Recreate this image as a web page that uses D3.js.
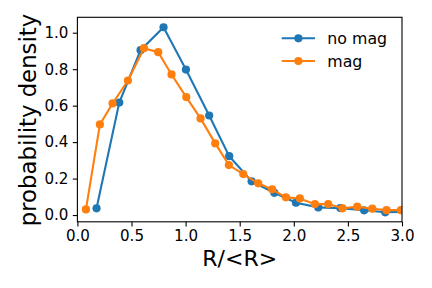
<!DOCTYPE html>
<html>
<head>
<meta charset="utf-8">
<script src="https://cdn.jsdelivr.net/npm/d3@7"></script>
<style>
  body { margin: 0; background: #fff; }
  svg text { font-family: "DejaVu Sans", sans-serif; fill: #000; }
</style>
</head>
<body>
<div id="chart"></div>
<script>
const noMagX = [0.177, 0.387, 0.584, 0.796, 1.003, 1.218, 1.403, 1.61, 1.82, 2.02, 2.226, 2.43, 2.65, 2.845, 3.05];
const noMagY = [0.037, 0.617, 0.904, 1.03, 0.798, 0.546, 0.323, 0.185, 0.122, 0.068, 0.042, 0.038, 0.026, 0.015, 0.018];
const magX = [0.079, 0.208, 0.325, 0.467, 0.615, 0.747, 0.87, 1.006, 1.138, 1.274, 1.40, 1.533, 1.671, 1.80,
              1.927, 2.056, 2.195, 2.318, 2.45, 2.586, 2.725, 2.857, 2.99];
const magY = [0.031, 0.497, 0.612, 0.738, 0.915, 0.893, 0.771, 0.647, 0.53, 0.393, 0.274, 0.225, 0.174, 0.141,
              0.097, 0.091, 0.060, 0.060, 0.037, 0.046, 0.035, 0.027, 0.027];
const xTicks = [0, 0.5, 1, 1.5, 2, 2.5, 3];
const yTicks = [0, 0.2, 0.4, 0.6, 0.8, 1.0];
const seriesNames = ["no mag", "mag"];
const colors = ["#1f77b4", "#ff7f0e"];

const W = 432, H = 288;
const m = {left: 77.4, right: 402, top: 17.3, bottom: 221.8};

const svg = d3.select("#chart").append("svg")
    .attr("width", W).attr("height", H);

const x = d3.scaleLinear().domain([0, 3]).range([m.left, m.right]);
const y = d3.scaleLinear().domain([-0.037, 1.0845]).range([m.bottom, m.top]);

svg.append("defs").append("clipPath").attr("id", "clip")
   .append("rect").attr("x", m.left).attr("y", m.top)
   .attr("width", m.right - m.left).attr("height", m.bottom - m.top);

const series = [
  noMagX.map((v, i) => ({x: v, y: noMagY[i]})),
  magX.map((v, i) => ({x: v, y: magY[i]}))
];

const line = d3.line().x(d => x(d.x)).y(d => y(d.y));
const plot = svg.append("g").attr("clip-path", "url(#clip)");

series.forEach((s, k) => {
  plot.append("path")
      .datum(s)
      .attr("fill", "none")
      .attr("stroke", colors[k])
      .attr("stroke-width", 2.1)
      .attr("d", line);
  plot.selectAll(".dot" + k)
      .data(s)
      .enter().append("circle")
      .attr("cx", d => x(d.x))
      .attr("cy", d => y(d.y))
      .attr("r", 4.1)
      .attr("fill", colors[k]);
});

// axes
const xAxis = svg.append("g")
   .attr("transform", `translate(0,${m.bottom})`)
   .call(d3.axisBottom(x).tickValues(xTicks).tickFormat(d3.format(".1f")).tickSizeOuter(0).tickSize(4.6).tickPadding(3.6));
const yAxis = svg.append("g")
   .attr("transform", `translate(${m.left},0)`)
   .call(d3.axisLeft(y).tickValues(yTicks).tickFormat(d3.format(".1f")).tickSizeOuter(0).tickSize(4.6).tickPadding(4.4));
[xAxis, yAxis].forEach(a => {
  a.selectAll("text").style("font-size", "15.1px").style("font-family", "DejaVu Sans");
  a.selectAll("line").attr("stroke", "#000").attr("stroke-width", 1.1);
  a.select(".domain").remove();
});

svg.append("rect")
   .attr("x", m.left).attr("y", m.top)
   .attr("width", m.right - m.left).attr("height", m.bottom - m.top)
   .attr("fill", "none").attr("stroke", "#000").attr("stroke-width", 1.1);

svg.append("text")
   .attr("x", (m.left + m.right) / 2).attr("y", 266)
   .attr("text-anchor", "middle")
   .style("font-size", "22px")
   .text("R/<R>");

svg.append("text")
   .attr("transform", `translate(35.5,120) rotate(-90)`)
   .attr("text-anchor", "middle")
   .style("font-size", "22.8px")
   .text("probability density");

// legend
const legendY = [38.3, 61];
seriesNames.forEach((name, k) => {
  const g = svg.append("g").attr("transform", `translate(281.7,${legendY[k]})`);
  g.append("line").attr("x1", 0).attr("x2", 33.3).attr("y1", 0).attr("y2", 0)
   .attr("stroke", colors[k]).attr("stroke-width", 2.1);
  g.append("circle").attr("cx", 16.7).attr("cy", 0).attr("r", 4.1).attr("fill", colors[k]);
  g.append("text").attr("x", 45.6).attr("y", 5.8)
   .style("font-size", "15.8px").text(name);
});
</script>
</body>
</html>
